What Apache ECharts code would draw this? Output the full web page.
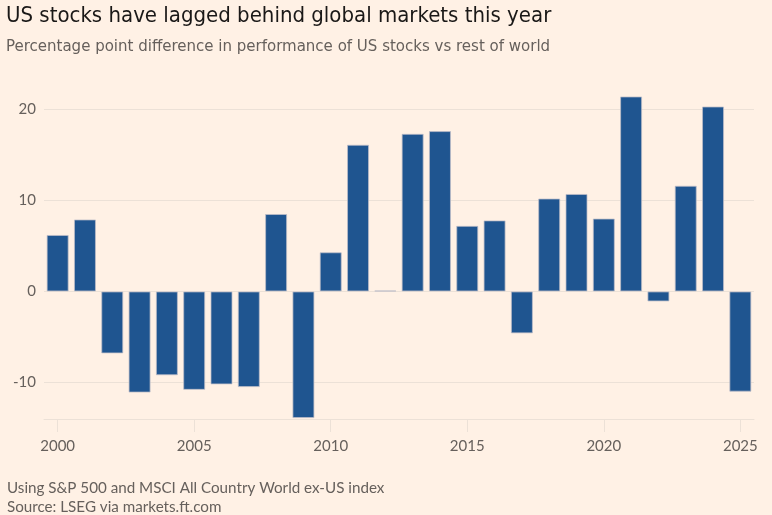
<!DOCTYPE html>
<html>
<head>
<meta charset="utf-8">
<script src="https://cdn.jsdelivr.net/npm/echarts@6/dist/echarts.min.js"></script>
<style>
html,body{margin:0;padding:0;background:#FFF1E5;}
#chart{width:772px;height:515px;}
</style>
</head>
<body>
<div id="chart"></div>
<script>
var years = ['2000','2001','2002','2003','2004','2005','2006','2007','2008','2009','2010','2011','2012','2013','2014','2015','2016','2017','2018','2019','2020','2021','2022','2023','2024','2025'];
var diffValues = [6.2, 7.9, -6.8, -11.1, -9.2, -10.8, -10.2, -10.5, 8.5, -13.9, 4.3, 16.1, 0.1, 17.3, 17.6, 7.2, 7.8, -4.6, 10.2, 10.7, 8.0, 21.4, -1.1, 11.6, 20.3, -11.0];
var yGridValues = [20, 10, 0, -10];

var chart = echarts.init(document.getElementById('chart'));
var gridColor = '#ece1d7';
chart.setOption({
  backgroundColor: '#FFF1E5',
  animation: false,
  title: [
    {text: 'US stocks have lagged behind global markets this year', left: 6, top: 5, padding: 0,
     textStyle: {fontFamily: 'Liberation Sans Narrow, DejaVu Sans Condensed, Roboto, sans-serif', fontSize: 22, fontWeight: 'normal', color: '#1a1817'}},
    {text: 'Percentage point difference in performance of US stocks vs rest of world', left: 6, top: 38, padding: 0,
     textStyle: {fontFamily: 'Liberation Sans Narrow, DejaVu Sans Condensed, Roboto, sans-serif', fontSize: 16.7, fontWeight: 'normal', color: '#66605c'}},
    {text: 'Using S&P 500 and MSCI All Country World ex-US index\nSource: LSEG via markets.ft.com', left: 7, top: 479, padding: 0,
     textStyle: {fontFamily: 'Lato, Noto Sans, sans-serif', fontSize: 15.2, fontWeight: 'normal', color: '#66605c', lineHeight: 19}}
  ],
  grid: {left: 44, right: 18, top: 91, bottom: 96},
  xAxis: {
    type: 'category',
    data: years,
    axisLine: {show: true, onZero: false, lineStyle: {color: gridColor, width: 1}},
    axisTick: {show: true, interval: 4, alignWithLabel: true, length: 13, lineStyle: {color: gridColor}},
    axisLabel: {interval: 4, margin: 20, color: '#66605c', fontSize: 15, fontFamily: 'Lato, Noto Sans, sans-serif'},
    splitLine: {show: false}
  },
  yAxis: {
    type: 'value',
    min: -14, max: 22, interval: 2,
    axisLine: {show: false},
    axisTick: {show: false},
    splitLine: {show: false},
    axisLabel: {
      margin: 8, color: '#66605c', fontSize: 15, fontFamily: 'Lato, Noto Sans, sans-serif',
      formatter: function (v) { return (v % 10 === 0) ? String(v) : ''; }
    }
  },
  series: [{
    type: 'bar',
    data: diffValues,
    barWidth: 22,
    itemStyle: {color: '#1f5590', borderColor: 'rgba(190,190,200,0.75)', borderWidth: 1},
    markLine: {
      silent: true, symbol: 'none', z: 1,
      label: {show: false},
      lineStyle: {color: gridColor, type: 'solid', width: 1},
      data: yGridValues.map(function (v) { return {yAxis: v}; })
    }
  }]
});
</script>
</body>
</html>
